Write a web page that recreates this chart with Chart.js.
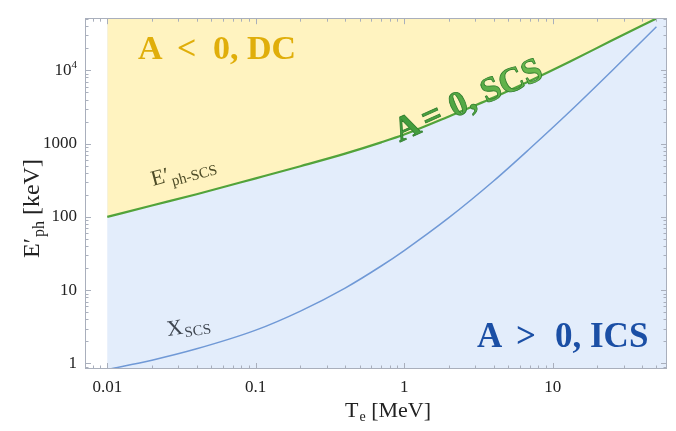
<!DOCTYPE html>
<html>
<head>
<meta charset="utf-8">
<script src="https://cdn.jsdelivr.net/npm/chart.js@4.4.1/dist/chart.umd.min.js"></script>
<style>
  html, body { margin: 0; padding: 0; background: #ffffff; }
  #wrap { width: 676px; height: 431px; }
</style>
</head>
<body>
<div id="wrap"><canvas id="chart" width="676" height="431"></canvas></div>
<script>
// Electron kinetic energy samples T_e [MeV]
const electronEnergyMeV = [0.01, 0.02, 0.04, 0.1, 0.2, 0.4, 0.7, 1, 2, 4, 7, 13, 25, 50];
// Boundary photon energy E'_ph-SCS [keV] (A = 0)
const photonEnergySCS = [100, 143, 204, 336, 492, 730, 1040, 1330, 2350, 4250, 7150, 13100, 25500, 51000];
// X_SCS [keV]
const xSCS = [0.83, 1.11, 1.585, 2.85, 5.19, 10.7, 21.4, 34.8, 97.7, 309, 851, 2720, 9800, 39300];

// Axis ranges and labelled decades
const xRange = [0.00708, 58.9];
const yRange = [0.841, 51500];
const xMajorTicks = [0.01, 0.1, 1, 10];
const yMajorTicks = [1, 10, 100, 1000];
const yPowerTick = { value: 10000, base: '10', exponent: '4' };

const SERIF = '"Liberation Serif", "DejaVu Serif", serif';
const FRAME = '#a9afbc';

function points(xs, ys) {
  return xs.map((x, i) => ({ x: x, y: ys[i] }));
}

function subText(ctx, main, sub, mainSize, subSize, drop, tail) {
  ctx.font = mainSize + 'px ' + SERIF;
  ctx.fillText(main, 0, 0);
  let w = ctx.measureText(main).width;
  ctx.font = subSize + 'px ' + SERIF;
  ctx.fillText(sub, w + 1, drop);
  w += 1 + ctx.measureText(sub).width;
  if (tail) {
    ctx.font = mainSize + 'px ' + SERIF;
    ctx.fillText(tail, w, 0);
  }
}

const decorations = {
  id: 'decorations',
  beforeDatasetsDraw(chart) {
    const { ctx, chartArea: a, scales: { x } } = chart;
    const x0 = x.getPixelForValue(0.01);
    ctx.save();
    ctx.fillStyle = '#e3edfb';
    ctx.fillRect(x0, a.top, a.right - x0, a.bottom - a.top);
    ctx.restore();
  },
  afterDatasetsDraw(chart) {
    const { ctx, chartArea: a, scales: { x, y } } = chart;
    ctx.save();

    // frame
    ctx.strokeStyle = FRAME;
    ctx.lineWidth = 1;
    ctx.strokeRect(Math.round(a.left) + 0.5, Math.round(a.top) + 0.5,
                   Math.round(a.right - a.left) - 1, Math.round(a.bottom - a.top) - 1);

    // inward tick marks on all four sides
    ctx.beginPath();
    for (let d = -3; d <= 2; d++) {
      for (let m = 1; m <= 9; m++) {
        const v = m * Math.pow(10, d);
        if (v < xRange[0] || v > xRange[1]) continue;
        const px = Math.round(x.getPixelForValue(v)) + 0.5;
        const len = m === 1 ? 6 : 3.5;
        ctx.moveTo(px, a.bottom); ctx.lineTo(px, a.bottom - len);
        ctx.moveTo(px, a.top); ctx.lineTo(px, a.top + len);
      }
    }
    for (let d = -1; d <= 5; d++) {
      for (let m = 1; m <= 9; m++) {
        const v = m * Math.pow(10, d);
        if (v < yRange[0] || v > yRange[1]) continue;
        const py = Math.round(y.getPixelForValue(v)) + 0.5;
        const len = m === 1 ? 6 : 3.5;
        ctx.moveTo(a.left, py); ctx.lineTo(a.left + len, py);
        ctx.moveTo(a.right, py); ctx.lineTo(a.right - len, py);
      }
    }
    ctx.stroke();

    // 10^4 tick label
    ctx.fillStyle = '#222';
    ctx.textBaseline = 'middle';
    const py4 = y.getPixelForValue(yPowerTick.value);
    ctx.font = '11px ' + SERIF;
    const ew = ctx.measureText(yPowerTick.exponent).width;
    ctx.textAlign = 'right';
    ctx.fillText(yPowerTick.exponent, a.left - 8, py4 - 5);
    ctx.font = '17px ' + SERIF;
    ctx.fillText(yPowerTick.base, a.left - 8 - ew, py4);

    // axis titles
    ctx.textAlign = 'left';
    ctx.textBaseline = 'alphabetic';
    ctx.fillStyle = '#222';
    ctx.save();
    ctx.translate(345, 417);
    subText(ctx, 'T', 'e', 22, 14, 4, ' [MeV]');
    ctx.restore();

    ctx.save();
    ctx.translate(39, 258);
    ctx.rotate(-Math.PI / 2);
    subText(ctx, 'E\u2032', 'ph', 24, 16, 5, ' [keV]');
    ctx.restore();

    // curve labels
    ctx.save();
    ctx.fillStyle = '#4d4b26';
    ctx.translate(153, 186);
    ctx.rotate(-15 * Math.PI / 180);
    subText(ctx, 'E\u2032', 'ph-SCS', 22, 15, 5);
    ctx.restore();

    ctx.save();
    ctx.fillStyle = '#3f4650';
    ctx.translate(168, 336);
    ctx.rotate(-9 * Math.PI / 180);
    subText(ctx, 'X', 'SCS', 22, 15, 4);
    ctx.restore();

    // region labels
    ctx.font = 'bold 34px ' + SERIF;
    ctx.fillStyle = '#e0ae0a';
    ctx.fillText('A', 138, 59);
    ctx.fillText('<', 177, 59);
    ctx.fillText('0, DC', 213, 59);

    ctx.font = 'bold 35px ' + SERIF;
    ctx.fillStyle = '#1b4fa5';
    ctx.fillText('A', 477, 347);
    ctx.fillText('>', 516, 347);
    ctx.fillText('0, ICS', 555, 347);

    ctx.save();
    ctx.translate(396, 134);
    ctx.rotate(-24 * Math.PI / 180);
    const g = ctx.createLinearGradient(0, 0, 160, 0);
    g.addColorStop(0, '#3f9a3c');
    g.addColorStop(1, '#6cba4e');
    ctx.fillStyle = g;
    ctx.strokeStyle = '#2f7d2c';
    ctx.lineWidth = 0.8;
    ctx.font = 'bold 35px ' + SERIF;
    ctx.textBaseline = 'middle';
    const parts = [['A', 0], ['=', 30], ['0, SCS', 60]];
    parts.forEach(([t, dx]) => { ctx.fillText(t, dx, 0); ctx.strokeText(t, dx, 0); });
    ctx.restore();

    ctx.restore();
  }
};

new Chart(document.getElementById('chart'), {
  type: 'line',
  data: {
    datasets: [
      {
        label: "E'ph-SCS",
        data: points(electronEnergyMeV, photonEnergySCS),
        borderColor: '#52a33a',
        borderWidth: 2.2,
        backgroundColor: '#fff3c0',
        fill: 'end',
        pointRadius: 0,
        cubicInterpolationMode: 'monotone'
      },
      {
        label: 'X_SCS',
        data: points(electronEnergyMeV, xSCS),
        borderColor: '#7099d6',
        borderWidth: 1.5,
        fill: false,
        pointRadius: 0,
        cubicInterpolationMode: 'monotone'
      }
    ]
  },
  options: {
    responsive: false,
    animation: false,
    devicePixelRatio: 1,
    layout: { padding: { top: 7, right: 9, left: 0, bottom: 0 } },
    plugins: { legend: { display: false }, tooltip: { enabled: false } },
    scales: {
      x: {
        type: 'logarithmic',
        min: xRange[0],
        max: xRange[1],
        grid: { display: false, drawTicks: false },
        border: { display: false },
        afterBuildTicks(scale) { scale.ticks = xMajorTicks.map(v => ({ value: v })); },
        afterFit(scale) { scale.height = 62; },
        ticks: {
          autoSkip: false, maxRotation: 0, padding: 8, color: '#222',
          font: { family: SERIF, size: 17 },
          callback: v => String(v)
        }
      },
      y: {
        type: 'logarithmic',
        min: yRange[0],
        max: yRange[1],
        grid: { display: false, drawTicks: false },
        border: { display: false },
        afterBuildTicks(scale) { scale.ticks = yMajorTicks.map(v => ({ value: v })); },
        afterFit(scale) { scale.width = 85; },
        ticks: {
          autoSkip: false, padding: 8, color: '#222',
          font: { family: SERIF, size: 17 },
          callback: v => String(v)
        }
      }
    }
  },
  plugins: [decorations]
});
</script>
</body>
</html>
